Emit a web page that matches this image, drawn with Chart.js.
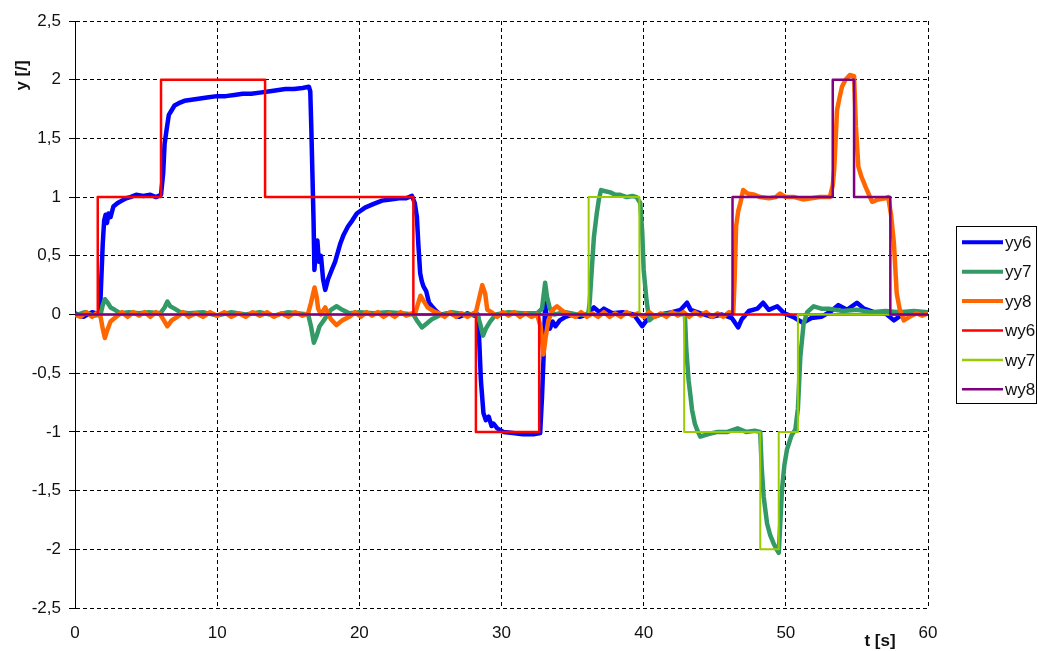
<!DOCTYPE html>
<html>
<head>
<meta charset="utf-8">
<script src="https://cdn.jsdelivr.net/npm/chart.js@4/dist/chart.umd.min.js"></script>
<style>
  html, body { margin: 0; padding: 0; background: #ffffff; }
  #wrap { width: 1038px; height: 651px; }
</style>
</head>
<body>
<div id="wrap"><canvas id="c" width="1038" height="651"></canvas></div>
<script>
// ---- data: [t (s), y] pairs ----
const seriesNames = ['yy6', 'yy7', 'yy8', 'wy6', 'wy7', 'wy8'];

const yy6 = [
[0,0.01],[0.6,-0.02],[1.2,0.02],[1.75,0],[1.85,0.3],[1.95,0.6],[2.05,0.8],[2.15,0.85],[2.25,0.78],[2.35,0.86],[2.5,0.83],[2.7,0.92],[3.0,0.95],[3.3,0.97],[3.6,0.99],[3.9,1.0],[4.3,1.02],[4.8,1.01],[5.3,1.02],[5.7,1.0],[6.05,1.02],[6.2,1.2],[6.3,1.45],[6.45,1.58],[6.6,1.7],[6.8,1.74],[7.0,1.78],[7.3,1.8],[7.7,1.82],[8.2,1.83],[8.8,1.84],[9.4,1.85],[10.0,1.86],[10.6,1.86],[11.2,1.87],[11.8,1.88],[12.4,1.88],[13.0,1.89],[13.6,1.9],[14.2,1.91],[14.8,1.92],[15.4,1.92],[16.0,1.93],[16.45,1.94],[16.55,1.9],[16.62,1.6],[16.7,1.2],[16.78,0.8],[16.84,0.38],[16.95,0.55],[17.05,0.63],[17.15,0.45],[17.3,0.5],[17.45,0.3],[17.6,0.21],[17.8,0.3],[18.06,0.38],[18.3,0.45],[18.65,0.6],[18.9,0.68],[19.2,0.75],[19.5,0.8],[19.82,0.86],[20.4,0.91],[20.97,0.94],[21.6,0.97],[22.17,0.98],[22.8,0.99],[23.3,0.99],[23.7,1.01],[23.9,0.95],[24.05,0.83],[24.15,0.6],[24.28,0.35],[24.4,0.28],[24.51,0.24],[24.7,0.2],[24.9,0.1],[25.1,0.07],[25.4,0.03],[25.7,0],[26.4,0.01],[27.0,-0.02],[27.6,0.01],[28.1,-0.01],[28.35,0],[28.45,-0.27],[28.55,-0.56],[28.73,-0.84],[28.9,-0.9],[29.1,-0.87],[29.3,-0.95],[29.44,-0.93],[29.7,-0.97],[30.14,-1.0],[30.8,-1.01],[31.5,-1.02],[32.25,-1.02],[32.72,-1.01],[32.85,-0.7],[32.96,-0.36],[33.07,0.1],[33.2,-0.05],[33.4,-0.12],[33.6,-0.06],[33.8,-0.1],[34.1,-0.05],[34.5,-0.02],[35.0,0],[35.5,-0.02],[36.0,0],[36.5,0.06],[36.9,0.02],[37.2,0.05],[37.8,0.01],[38.5,0.02],[39.3,0],[39.9,-0.1],[40.2,-0.05],[40.6,-0.02],[41.2,0],[42.0,0.02],[42.6,0.04],[43.05,0.1],[43.3,0.04],[44.0,0.01],[44.8,-0.02],[45.5,0],[46.2,-0.03],[46.65,-0.11],[46.9,-0.04],[47.4,0.03],[48.0,0.05],[48.4,0.1],[48.8,0.04],[49.4,0.07],[49.9,0.01],[50.5,-0.02],[51.2,-0.07],[51.8,-0.03],[52.5,-0.02],[53.2,0.03],[53.7,0.08],[54.3,0.04],[55.0,0.1],[55.5,0.05],[56.2,0.02],[57.0,0.01],[57.6,-0.05],[58.2,0],[59.0,0.02],[60,0.01]
];

const yy7 = [
[0,-0.01],[0.7,0.02],[1.3,-0.01],[1.8,0],[1.95,0.08],[2.1,0.13],[2.3,0.1],[2.5,0.06],[2.8,0.04],[3.2,0.01],[3.8,0.02],[4.5,0.01],[5.2,0.02],[6.0,0.01],[6.3,0.06],[6.5,0.11],[6.7,0.07],[7.0,0.05],[7.4,0.02],[8.0,0.01],[9.0,0.02],[10.0,-0.01],[11.0,0.02],[12.0,0],[13.0,0.02],[14.0,-0.01],[15.0,0.02],[16.4,0],[16.6,-0.1],[16.8,-0.24],[17.0,-0.18],[17.2,-0.1],[17.5,-0.05],[18.0,0.04],[18.4,0.07],[18.8,0.04],[19.3,0.01],[20.0,0.02],[21.0,0.01],[22.0,0.02],[23.0,0.01],[23.8,0],[24.1,-0.06],[24.4,-0.11],[24.7,-0.08],[25.1,-0.04],[25.6,-0.01],[26.5,0.02],[27.5,0],[28.3,0],[28.5,-0.08],[28.7,-0.18],[28.9,-0.12],[29.2,-0.06],[29.6,0],[30.5,0.02],[31.5,0.01],[32.5,0.01],[32.85,0.05],[33.07,0.27],[33.2,0.15],[33.4,0.05],[33.7,0],[34.5,0.02],[35.3,0],[36.1,0],[36.2,0.1],[36.3,0.29],[36.5,0.66],[36.7,0.86],[36.85,0.98],[37.0,1.06],[37.3,1.05],[37.65,1.04],[38.0,1.02],[38.35,1.02],[38.8,1.0],[39.2,1.01],[39.5,1.0],[39.76,0.95],[39.9,0.7],[40.0,0.38],[40.2,0.12],[40.4,-0.05],[40.7,-0.02],[41.2,0],[42.0,0.01],[42.9,0],[43.0,-0.3],[43.16,-0.56],[43.3,-0.7],[43.4,-0.81],[43.6,-0.93],[43.75,-0.98],[43.98,-1.04],[44.5,-1.02],[45.2,-1.0],[45.9,-1.0],[46.6,-0.97],[47.2,-1.0],[47.8,-0.99],[48.2,-1.0],[48.3,-1.3],[48.44,-1.55],[48.68,-1.78],[48.9,-1.88],[49.14,-1.95],[49.35,-2.0],[49.5,-2.03],[49.6,-1.8],[49.73,-1.49],[49.9,-1.28],[50.08,-1.15],[50.4,-1.03],[50.67,-0.98],[50.85,-0.8],[51.02,-0.36],[51.25,-0.08],[51.5,0.02],[51.96,0.07],[52.5,0.05],[53.0,0.05],[54.0,0.03],[55.0,0.04],[56.0,0.02],[57.0,0.03],[58.0,0.02],[59.0,0.03],[60,0.02]
];

const yy8 = [
[0,0],[0.4,-0.02],[0.8,0.02],[1.2,-0.02],[1.5,0.01],[1.8,-0.02],[1.95,-0.12],[2.1,-0.2],[2.25,-0.14],[2.5,-0.06],[2.9,-0.02],[3.3,0.02],[3.7,-0.02],[4.1,0.02],[4.5,-0.01],[4.9,0.02],[5.3,-0.02],[5.7,0.02],[6.0,0],[6.25,-0.05],[6.5,-0.1],[6.8,-0.05],[7.2,-0.02],[7.6,0.02],[8.0,-0.02],[8.5,0.01],[9.0,-0.02],[9.5,0.02],[10.0,-0.01],[10.5,0.02],[11.0,-0.02],[11.5,0.01],[12.0,-0.02],[12.5,0.02],[13.0,-0.01],[13.5,0.02],[14.0,-0.02],[14.5,0.01],[15.0,-0.02],[15.5,0.02],[16.0,-0.01],[16.4,0.01],[16.6,0.1],[16.85,0.23],[17.0,0.15],[17.1,0.05],[17.3,0],[17.6,0.06],[18.0,-0.04],[18.4,-0.09],[18.8,-0.05],[19.3,-0.02],[19.7,0.02],[20.1,-0.02],[20.5,0.02],[20.9,-0.01],[21.3,0.02],[21.7,-0.02],[22.1,0.01],[22.5,-0.02],[22.9,0.02],[23.3,-0.01],[23.7,0.01],[23.9,0],[24.1,0.08],[24.3,0.16],[24.5,0.12],[24.8,0.06],[25.2,0.03],[25.6,0.01],[26.0,-0.02],[26.4,0.02],[26.8,-0.02],[27.2,0.01],[27.6,-0.02],[28.0,0.01],[28.2,0.02],[28.45,0.15],[28.65,0.25],[28.85,0.18],[29.0,0.04],[29.3,0.02],[29.7,-0.02],[30.1,0.02],[30.5,-0.01],[30.9,0.02],[31.3,-0.02],[31.7,0.01],[32.1,-0.02],[32.5,0],[32.75,-0.1],[32.95,-0.34],[33.1,-0.2],[33.3,-0.05],[33.6,0.04],[33.9,0.07],[34.3,0.03],[34.8,0],[35.2,-0.02],[35.6,0.02],[36.0,-0.02],[36.4,0.01],[36.8,-0.02],[37.2,0.02],[37.6,-0.02],[38.0,0.01],[38.4,-0.02],[38.8,0.02],[39.2,-0.01],[39.6,0.01],[40.0,-0.02],[40.4,0.02],[40.8,-0.02],[41.2,0.01],[41.6,-0.02],[42.0,0.02],[42.4,-0.01],[42.8,0.02],[43.2,-0.02],[43.6,0.02],[44.0,-0.01],[44.4,0.02],[44.8,-0.02],[45.2,0.01],[45.6,-0.02],[46.0,0.02],[46.3,0.01],[46.4,0.3],[46.5,0.75],[46.65,0.88],[46.8,0.95],[47.0,1.06],[47.3,1.03],[47.8,1.02],[48.2,1.0],[48.8,0.99],[49.3,1.0],[49.6,1.03],[50.0,1.0],[50.6,1.0],[51.2,0.98],[51.8,0.99],[52.4,1.0],[53.1,1.0],[53.3,1.1],[53.4,1.23],[53.6,1.74],[53.8,1.86],[53.95,1.94],[54.2,2.0],[54.5,2.04],[54.8,2.03],[54.93,1.6],[55.1,1.26],[55.3,1.18],[55.6,1.09],[56.07,0.96],[56.5,0.98],[57.0,0.99],[57.2,1.0],[57.4,0.85],[57.6,0.61],[57.8,0.18],[58.0,0.05],[58.3,-0.05],[58.7,-0.02],[59.2,0.01],[59.6,-0.01],[60,0.01]
];

// set-points (value holds from its time until the next point)
const wy6 = [[0,0],[1.6,1],[6.05,2],[13.37,1],[23.8,0],[28.2,-1],[32.65,0],[60,0]];
const wy7 = [[0,0],[36.13,1],[39.7,0],[42.85,-1],[48.2,-2],[49.5,-1],[50.85,0],[60,0]];
const wy8 = [[0,0],[46.25,1],[53.3,2],[54.8,1],[57.35,0],[60,0]];

const xTicks = [0, 10, 20, 30, 40, 50, 60];
const yTicks = [-2.5, -2, -1.5, -1, -0.5, 0, 0.5, 1, 1.5, 2, 2.5];

// ---- styles ----
const colors = ['#0000FF', '#339966', '#FF6600', '#FF0000', '#99CC00', '#800080'];
const widths = [4.5, 4.5, 4.5, 2.5, 2, 2.5];
const seriesData = [yy6, yy7, yy8, wy6, wy7, wy8];

const datasets = seriesData.map((arr, i) => ({
  label: seriesNames[i],
  data: arr.map(p => ({ x: p[0], y: p[1] })),
  borderColor: colors[i],
  backgroundColor: colors[i],
  borderWidth: widths[i],
  pointRadius: 0,
  tension: 0,
  fill: false,
  stepped: i >= 3 ? true : false,
  order: 6 - i,
  borderJoinStyle: 'round'
}));

const FONT = "'Liberation Sans', Arial, sans-serif";
const TXT = '#111111';

const extrasPlugin = {
  id: 'extras',
  afterDraw(chart) {
    const ctx = chart.ctx;
    ctx.save();
    // axis titles
    ctx.fillStyle = TXT;
    ctx.font = "bold 17px " + FONT;
    ctx.textAlign = 'center';
    ctx.textBaseline = 'alphabetic';
    ctx.save();
    ctx.translate(26.5, 75.5);
    ctx.rotate(-Math.PI / 2);
    ctx.fillText('y [/]', 0, 0);
    ctx.restore();
    ctx.fillText('t [s]', 880, 646);

    // legend
    const lx = 956.5, ly = 226.5, lw = 80, lh = 177;
    ctx.strokeStyle = '#000';
    ctx.lineWidth = 1;
    ctx.strokeRect(lx, ly, lw, lh);
    ctx.font = "17px " + FONT;
    ctx.textAlign = 'left';
    ctx.textBaseline = 'middle';
    chart.data.datasets.forEach((ds, i) => {
      const y = 242.3 + i * 29.4;
      ctx.strokeStyle = ds.borderColor;
      ctx.lineWidth = i < 3 ? 4 : 2.5;
      ctx.beginPath();
      ctx.moveTo(962, y);
      ctx.lineTo(1003, y);
      ctx.stroke();
      ctx.fillStyle = TXT;
      ctx.fillText(ds.label, 1005, y + 1);
    });
    ctx.restore();
  }
};

new Chart(document.getElementById('c'), {
  type: 'line',
  data: { datasets },
  options: {
    responsive: false,
    animation: false,
    events: [],
    layout: { padding: { left: 0, top: 21, right: 110, bottom: 0 } },
    plugins: { legend: { display: false }, tooltip: { enabled: false } },
    scales: {
      x: {
        type: 'linear',
        position: 'bottom',
        min: 0, max: 60,
        afterBuildTicks: s => { s.ticks = xTicks.map(v => ({ value: v })); },
        afterFit: s => { s.height = 43; },
        ticks: { color: TXT, font: { family: FONT, size: 17 }, padding: 15, maxRotation: 0 },
        grid: { color: '#000', lineWidth: 1, drawTicks: false },
        border: { display: false, dash: [4, 3] }
      },
      x0: {
        type: 'linear',
        position: { y: 0 },
        min: 0, max: 60,
        afterBuildTicks: s => { s.ticks = xTicks.map(v => ({ value: v })); },
        ticks: { display: false },
        grid: { drawOnChartArea: false, drawTicks: true, tickLength: 5, color: '#000', tickBorderDash: [] },
        border: { display: true, color: '#000', width: 1 }
      },
      y: {
        type: 'linear',
        min: -2.5, max: 2.5,
        afterBuildTicks: s => { s.ticks = yTicks.map(v => ({ value: v })); },
        afterFit: s => { s.width = 75; },
        ticks: {
          color: TXT, font: { family: FONT, size: 17 }, padding: 8,
          callback: v => String(v).replace('.', ',')
        },
        grid: { color: '#000', lineWidth: 1, drawTicks: true, tickLength: 6, tickColor: '#000', tickBorderDash: [] },
        border: { display: true, color: '#000', width: 1, dash: [4, 3] }
      }
    }
  },
  plugins: [extrasPlugin]
});
</script>
</body>
</html>
